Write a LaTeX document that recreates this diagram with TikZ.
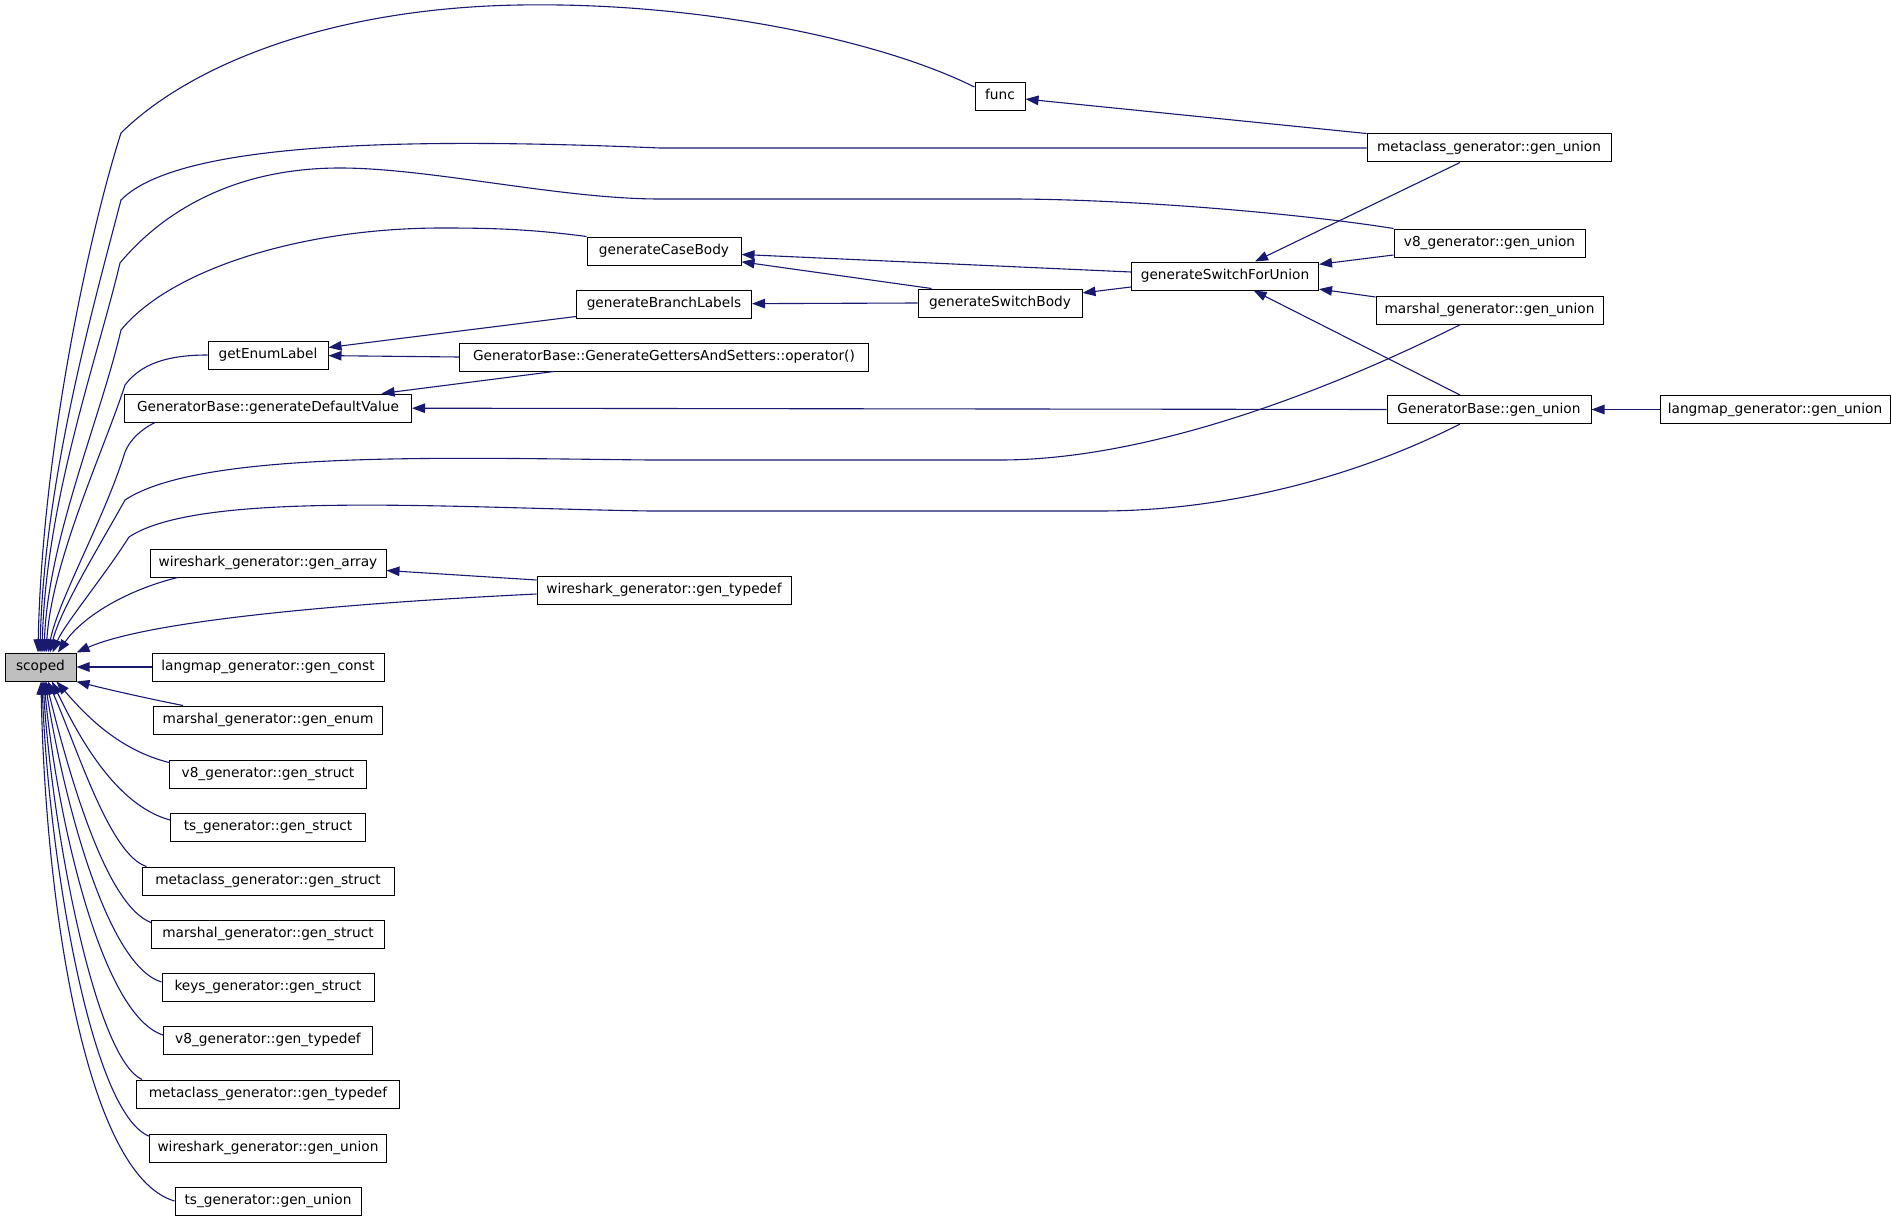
\documentclass[tikz,border=0pt]{standalone}
\usepackage{fontspec}
\setmainfont{DejaVu Sans}
\usepackage{tikz}
\usetikzlibrary{calc,arrows.meta}
\definecolor{callblue}{HTML}{191970}
\definecolor{selgray}{HTML}{BFBFBF}

\begin{document}
\begin{tikzpicture}[x=1pt,y=-1pt,
  fn/.style={draw=black,line width=1pt,fill=white,minimum height=28pt,inner sep=0pt,
    text height=10pt,text depth=3pt,font=\fontsize{13.7}{16}\selectfont},
  call/.style={draw=callblue,line width=1.1pt,-{Triangle[length=13pt,width=9.5pt]}}]
\useasboundingbox (0,0) rectangle (1891,1220);
% callee on the left, callers to the right of it
\node[fn,fill=selgray,minimum width=71] (scoped) at (40.5,667) {scoped};
\node[fn,minimum width=120] (getEnumLabel) at (268,355) {getEnumLabel};
\node[fn,minimum width=287] (defVal) at (268,408) {GeneratorBase::generateDefaultValue};
\node[fn,minimum width=236] (genArray) at (268,563) {wireshark\_generator::gen\_array};
\node[fn,minimum width=232] (genConst) at (268,667) {langmap\_generator::gen\_const};
\node[fn,minimum width=229] (genEnum) at (268,720) {marshal\_generator::gen\_enum};
\node[fn,minimum width=197] (v8Struct) at (268,774) {v8\_generator::gen\_struct};
\node[fn,minimum width=195] (tsStruct) at (268,827) {ts\_generator::gen\_struct};
\node[fn,minimum width=252] (mcStruct) at (268,881) {metaclass\_generator::gen\_struct};
\node[fn,minimum width=233] (mshStruct) at (268,934) {marshal\_generator::gen\_struct};
\node[fn,minimum width=212] (keysStruct) at (268,987) {keys\_generator::gen\_struct};
\node[fn,minimum width=209] (v8Typedef) at (268,1040) {v8\_generator::gen\_typedef};
\node[fn,minimum width=263] (mcTypedef) at (268,1094) {metaclass\_generator::gen\_typedef};
\node[fn,minimum width=237] (wsUnion) at (268,1148) {wireshark\_generator::gen\_union};
\node[fn,minimum width=186] (tsUnion) at (268,1201) {ts\_generator::gen\_union};
% second column
\node[fn,minimum width=154] (caseBody) at (664,251) {generateCaseBody};
\node[fn,minimum width=175] (branchLabels) at (664,304) {generateBranchLabels};
\node[fn,minimum width=409] (gettersSetters) at (664,357) {GeneratorBase::GenerateGettersAndSetters::operator()};
\node[fn,minimum width=254] (wsTypedef) at (664,590) {wireshark\_generator::gen\_typedef};
\node[fn,minimum width=50] (func) at (1000,96.5) {func};
\node[fn,minimum width=164] (switchBody) at (1000,303) {generateSwitchBody};
\node[fn,minimum width=187] (switchUnion) at (1225,276) {generateSwitchForUnion};
% gen_union column
\node[fn,minimum width=244] (mcUnion) at (1489,148) {metaclass\_generator::gen\_union};
\node[fn,minimum width=191] (v8Union) at (1489.5,243) {v8\_generator::gen\_union};
\node[fn,minimum width=227] (mshUnion) at (1489.5,310) {marshal\_generator::gen\_union};
\node[fn,minimum width=204] (baseUnion) at (1489,409.5) {GeneratorBase::gen\_union};
\node[fn,minimum width=230] (lmUnion) at (1775,409.5) {langmap\_generator::gen\_union};

% long calls into scoped, over the top
\draw[call] ($(func.west)+(0,-9.5)$) .. controls (880,40) and (700,2) .. (520,5) .. controls (330,8) and (190,65) .. (121,133) .. controls (90,230) and (42,450) .. ($(scoped.north)+(-2.5,0)$);
\draw[call] (mcUnion.west) -- (660,148) .. controls (420,138) and (180,140) .. (121,200) .. controls (95,300) and (44,480) .. ($(scoped.north)+(-0.5,0)$);
\draw[call] (v8Union.north west) .. controls (1290,212) and (1120,199) .. (1010,199) -- (660,199) .. controls (560,199) and (430,168) .. (340,168) .. controls (230,168) and (160,215) .. (120,263) .. controls (97,360) and (46,500) .. ($(scoped.north)+(1.5,0)$);
\draw[call] (caseBody.north west) .. controls (530,229) and (490,228) .. (442,228) .. controls (300,228) and (170,270) .. (121,330) .. controls (100,420) and (48,540) .. ($(scoped.north)+(3.5,0)$);
\draw[call] (getEnumLabel.west) .. controls (165,355) and (140,365) .. (125,385) .. controls (104,450) and (52,560) .. ($(scoped.north)+(5.5,0)$);
\draw[call] ($(defVal.south west)+(31,0)$) .. controls (140,430) and (130,440) .. (125,452) .. controls (104,520) and (58,600) .. ($(scoped.north)+(7.5,0)$);
\draw[call] ($(mshUnion.south)+(-29,0)$) .. controls (1330,390) and (1150,460) .. (1000,460) -- (650,460) .. controls (450,458) and (200,450) .. (125,500) .. controls (100,545) and (60,610) .. ($(scoped.north)+(9.5,0)$);
\draw[call] ($(baseUnion.south)+(-29,0)$) .. controls (1350,480) and (1220,511) .. (1100,511) -- (650,511) .. controls (450,508) and (200,490) .. (129,537) .. controls (105,575) and (64,625) .. ($(scoped.north)+(12,0)$);
\draw[call] ($(genArray.south west)+(28,0)$) .. controls (120,592) and (80,620) .. ($(scoped.north)+(17.5,0)$);
\draw[call] ($(wsTypedef.west)+(0,4)$) .. controls (350,603) and (150,620) .. (scoped.north east);
\draw[call] (genConst.west) -- (scoped.east);
% calls from below
\draw[call] ($(genEnum.north west)+(30,0)$) .. controls (150,699) and (110,690) .. (scoped.south east);
\draw[call] ($(v8Struct.north west)+(0,3)$) .. controls (120,750) and (88,718) .. ($(scoped.south)+(16,0)$);
\draw[call] ($(tsStruct.west)+(0,-7)$) .. controls (115,805) and (78,735) .. ($(scoped.south)+(11.5,0)$);
\draw[call] ($(mcStruct.north west)+(5,0)$) .. controls (110,855) and (78,750) .. ($(scoped.south)+(7.5,0)$);
\draw[call] ($(mshStruct.north west)+(0,3)$) .. controls (105,905) and (68,770) .. ($(scoped.south)+(5.5,0)$);
\draw[call] ($(keysStruct.west)+(0,-5)$) .. controls (105,965) and (62,790) .. ($(scoped.south)+(4.5,0)$);
\draw[call] ($(v8Typedef.west)+(0,-5)$) .. controls (100,1015) and (56,810) .. ($(scoped.south)+(3.5,0)$);
\draw[call] ($(mcTypedef.north west)+(6,0)$) .. controls (95,1058) and (52,830) .. ($(scoped.south)+(2.5,0)$);
\draw[call] ($(wsUnion.north west)+(1,3)$) .. controls (90,1115) and (48,850) .. ($(scoped.south)+(1.5,0)$);
\draw[call] (tsUnion.west) .. controls (85,1175) and (45,900) .. ($(scoped.south)+(0.5,0)$);
% the rest of the graph
\draw[call] (mcUnion.north west) -- (func);
\draw[call] ($(mcUnion.south)+(-29,0)$) -- (switchUnion);
\draw[call] ($(v8Union.west)+(0,12)$) -- (switchUnion);
\draw[call] ($(mshUnion.west)+(0,-13)$) -- (switchUnion);
\draw[call] ($(baseUnion.north)+(-29,0)$) -- (switchUnion);
\draw[call] (lmUnion.west) -- (baseUnion);
\draw[call] (baseUnion.west) -- (defVal);
\draw[call] ($(switchUnion.west)+(0,-4)$) -- (caseBody);
\draw[call] ($(switchUnion.west)+(0,11)$) -- (switchBody);
\draw[call] ($(switchBody.north west)+(14,0)$) -- (caseBody);
\draw[call] (switchBody.west) -- (branchLabels);
\draw[call] ($(branchLabels.south west)+(0,-2)$) -- (getEnumLabel);
\draw[call] (gettersSetters.west) -- (getEnumLabel);
\draw[call] ($(gettersSetters.south)+(-110,0)$) -- (defVal);
\draw[call] ($(wsTypedef.west)+(0,-10)$) -- (genArray);
\end{tikzpicture}
\end{document}
